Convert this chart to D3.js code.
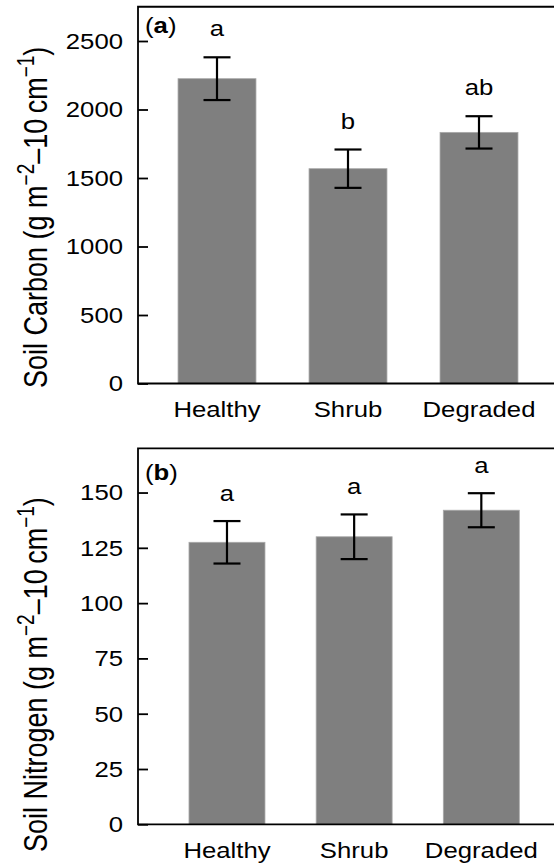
<!DOCTYPE html>
<html>
<head>
<meta charset="utf-8">
<script src="https://cdn.jsdelivr.net/npm/d3@7"></script>
<style>
  html, body { margin: 0; padding: 0; background: #fff; }
  svg { display: block; }
  text { font-family: "Liberation Sans", Arial, sans-serif; fill: #000; }
</style>
</head>
<body>
<script>
// ---- data ----
const categories = ["Healthy", "Shrub", "Degraded"];
const carbonMean = [2225, 1568, 1833];
const carbonSE = [156, 140, 118];
const carbonLetters = ["a", "b", "ab"];
const carbonTicks = [0, 500, 1000, 1500, 2000, 2500];
const nitrogenMean = [127.5, 130, 142];
const nitrogenSE = [9.6, 10.1, 7.7];
const nitrogenLetters = ["a", "a", "a"];
const nitrogenTicks = [0, 25, 50, 75, 100, 125, 150];

const W = 554, H = 867;
const SX = 1.18;       // horizontal stretch of the figure
const FS = 21.8;

const svg = d3.select("body").append("svg").attr("width", W).attr("height", H);

function htext(g, x, y, str, anchor, weight) {
  return g.append("text")
    .attr("transform", `translate(${x},${y}) scale(${SX},1)`)
    .attr("text-anchor", anchor || "middle")
    .attr("font-size", FS)
    .attr("font-weight", weight || "normal")
    .text(str);
}

function panel(opts) {
  const g = svg.append("g");
  const y = d3.scaleLinear().domain(opts.yDomain).range([opts.yBottom, opts.yTop]);
  const x = d3.scaleBand().domain(categories).range(opts.xRange)
    .paddingInner(opts.pad).paddingOuter(opts.pad / 2);

  // bars
  g.selectAll("rect.bar").data(categories).enter().append("rect")
    .attr("class", "bar")
    .attr("x", d => x(d))
    .attr("width", x.bandwidth())
    .attr("y", (d, i) => y(opts.mean[i]))
    .attr("height", (d, i) => y(0) - y(opts.mean[i]))
    .attr("fill", "#7f7f7f")
    .attr("stroke", "#a9a9a9")
    .attr("stroke-width", 0.8);

  // error bars
  const cap = 13.5;
  categories.forEach((c, i) => {
    const cx = x(c) + x.bandwidth() / 2;
    const hi = y(opts.mean[i] + opts.se[i]);
    const lo = y(opts.mean[i] - opts.se[i]);
    g.append("line").attr("x1", cx).attr("x2", cx).attr("y1", hi).attr("y2", lo)
      .attr("stroke", "#000").attr("stroke-width", 2.2);
    [hi, lo].forEach(v => g.append("line")
      .attr("x1", cx - cap).attr("x2", cx + cap).attr("y1", v).attr("y2", v)
      .attr("stroke", "#000").attr("stroke-width", 2.2));
    htext(g, cx, hi - opts.letterGap, opts.letters[i]);
  });

  // frame: top border, left axis, bottom axis
  g.append("path")
    .attr("d", `M${W + 5},${opts.yTop} H${opts.xLeft} V${y(0)} H${W + 5}`)
    .attr("fill", "none").attr("stroke", "#000").attr("stroke-width", 1.8);

  // y axis (inward ticks) via d3 axis
  const yAxis = d3.axisRight(y).tickValues(opts.ticks).tickSize(10).tickFormat("");
  const ya = g.append("g").attr("transform", `translate(${opts.xLeft},0)`).call(yAxis);
  ya.select(".domain").remove();
  ya.selectAll(".tick line").attr("stroke", "#000").attr("stroke-width", 1.8);
  opts.ticks.forEach(t => {
    htext(g, opts.xLeft - 15, y(t) + 7.8, String(t), "end");
  });

  // x labels
  categories.forEach(c => {
    htext(g, x(c) + x.bandwidth() / 2, opts.xLabelY, c);
  });

  // panel tag
  const tag = g.append("text")
    .attr("transform", `translate(${opts.xLeft + 7},${opts.tagY}) scale(${SX},1)`)
    .attr("font-size", FS);
  tag.append("tspan").text("(");
  tag.append("tspan").attr("font-weight", "bold").text(opts.tag);
  tag.append("tspan").text(")");

  // y title
  const yt = g.append("text")
    .attr("transform", `translate(47,${opts.titleY}) rotate(-90) scale(1,1.22)`)
    .attr("font-size", 27);
  yt.append("tspan").text(opts.title + " (g m");
  yt.append("tspan").attr("font-size", 19).attr("dy", -11).text("\u22122");
  yt.append("tspan").attr("dy", 11).text("\u201310\u2009cm");
  yt.append("tspan").attr("font-size", 19).attr("dy", -11).text("\u22121");
  yt.append("tspan").attr("dy", 11).text(")");
}

panel({
  yDomain: [0, 2750], yBottom: 383.5, yTop: 6.75,
  xRange: [151.5, 544.5], pad: 0.405, xLeft: 138,
  mean: carbonMean, se: carbonSE, letters: carbonLetters, ticks: carbonTicks,
  letterGap: 21, xLabelY: 416.5, tag: "a", tagY: 33, title: "Soil Carbon", titleY: 388
});

panel({
  yDomain: [0, 170], yBottom: 824.3, yTop: 448.3,
  xRange: [163.4, 544.9], pad: 0.4025, xLeft: 138,
  mean: nitrogenMean, se: nitrogenSE, letters: nitrogenLetters, ticks: nitrogenTicks,
  letterGap: 20, xLabelY: 858, tag: "b", tagY: 480, title: "Soil Nitrogen", titleY: 852
});
</script>
</body>
</html>
